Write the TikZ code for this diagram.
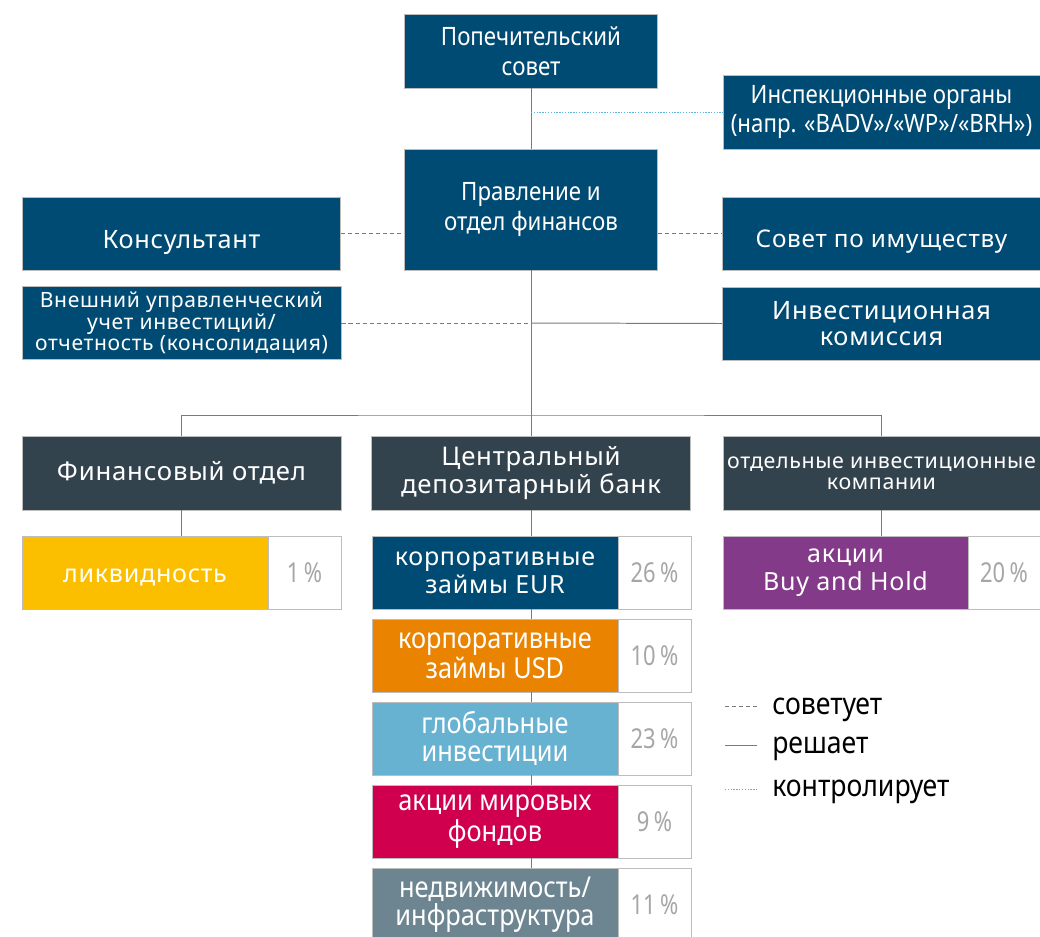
\documentclass[tikz,border=0pt]{standalone}
\usepackage{fontspec}
\setmainfont{Noto Sans}[LetterSpace=3]
\newfontfamily\narrowfont{Noto Sans}[FakeStretch=0.88]
\newfontfamily\pctfont{Noto Sans}[FakeStretch=0.8]
\usepackage{xcolor}
\usetikzlibrary{positioning,calc}
\definecolor{navy}{HTML}{004B73}
\definecolor{slate}{HTML}{33434D}
\definecolor{liqyellow}{HTML}{FBBF00}
\definecolor{usdorange}{HTML}{E98300}
\definecolor{globblue}{HTML}{67B2D1}
\definecolor{fundred}{HTML}{D1004F}
\definecolor{realgray}{HTML}{6D8591}
\definecolor{buypurple}{HTML}{833A89}
\definecolor{pctgray}{HTML}{A6A6A6}
\definecolor{boxline}{HTML}{BDBDBD}
\definecolor{ctrlblue}{HTML}{5AB4DE}
\definecolor{linegray}{HTML}{7A7A7A}
\newcommand{\lowtext}[2]{\raisebox{-#1}[\height][0pt]{#2}}

\begin{document}
\begin{tikzpicture}[x=0.025cm, y=-0.025cm]
	\tikzstyle{box} = [draw = boxline, line width = 0.6pt, inner sep = 0pt, align = center, text = white]
	\tikzstyle{head} = [box, fill = navy, minimum width = 6.325cm, font = \narrowfont\fontsize{18}{21}\selectfont]
	\tikzstyle{side} = [box, fill = navy, minimum width = 7.95cm, minimum height = 1.825cm, font = \fontsize{18}{18}\selectfont]
	\tikzstyle{unit} = [box, fill = slate, minimum width = 7.975cm, minimum height = 1.85cm, font = \fontsize{18.3}{18}\selectfont]
	\tikzstyle{asset} = [box, minimum width = 6.15cm, minimum height = 1.825cm, font = \fontsize{17.8}{20}\selectfont]
	\tikzstyle{nasset} = [asset, font = \narrowfont\fontsize{20.5}{20}\selectfont]
	\tikzstyle{pct} = [box, fill = white, text = pctgray, minimum width = 1.825cm, minimum height = 1.825cm, font = \pctfont\fontsize{19.5}{20}\selectfont]
	\tikzstyle{decides} = [draw = linegray, line width = 0.7pt]
	\tikzstyle{advises} = [draw = linegray, line width = 0.7pt, dash pattern = on 3pt off 2pt]
	\tikzstyle{supervises} = [draw = ctrlblue, line width = 0.7pt, dash pattern = on 1pt off 1pt]
	\tikzstyle{legend} = [anchor = west, inner sep = 0pt, font = \narrowfont\fontsize{21.5}{22}\selectfont]
\useasboundingbox (0,0) rectangle (1040,936);
% top of the tree
\node[head, minimum height = 1.85cm] (trust) at (531,51) {Попечительский\\совет};
\node[head, minimum width = 7.925cm, minimum height = 1.85cm] (inspect) at (881.5,112) {Инспекционные органы\\(напр. «BADV»/«WP»/«BRH»)};
\node[head, minimum height = 3.025cm, font = \narrowfont\fontsize{18}{22}\selectfont] (board) at (531,209.5) {Правление и\\отдел финансов};
\node[side] (consult) at (181.5,233.5) {\lowtext{4pt}{Консультант}};
\node[side, font = \fontsize{17.3}{18}\selectfont] (estate) at (881.5,233.5) {\lowtext{4pt}{Совет по имуществу}};
\node[side, minimum width = 7.975cm, font = \fontsize{15}{14.5}\selectfont] (extern) at (181.5,323) {Внешний управленческий\\учет инвестиций/\\отчетность (консолидация)};
\node[side] (invest) at (881.5,323.5) {Инвестиционная\\комиссия};
% units
\node[unit] (findept) at (181.5,473) {Финансовый отдел};
\node[unit] (depot) at (531,473) {Центральный\\депозитарный банк};
\node[unit, minimum width = 7.925cm, font = \fontsize{15.2}{15}\selectfont] (single) at (881.5,473) {отдельные инвестиционные\\компании};
% assets
\node[asset, fill = liqyellow] (liquid) at (145,572.5) {\lowtext{2pt}{ликвидность}};
\node[pct] (liquidp) at (304.5,572.5) {1\,\%};
\node[asset, fill = navy] (eur) at (495,572.5) {корпоративные\\займы EUR};
\node[pct] (eurp) at (654.5,572.5) {26\,\%};
\node[nasset, fill = usdorange] (usd) at (495,655.5) {корпоративные\\займы USD};
\node[pct] (usdp) at (654.5,655.5) {10\,\%};
\node[nasset, fill = globblue] (glob) at (495,738.5) {глобальные\\инвестиции};
\node[pct] (globp) at (654.5,738.5) {23\,\%};
\node[nasset, fill = fundred] (funds) at (495,821.5) {акции мировых\\фондов};
\node[pct] (fundsp) at (654.5,821.5) {9\,\%};
\node[nasset, fill = realgray] (real) at (495,904.5) {недвижимость/\\инфраструктура};
\node[pct] (realp) at (654.5,904.5) {11\,\%};
\node[asset, minimum width = 6.125cm, fill = buypurple] (buy) at (845.5,572.5) {акции\\Buy and Hold};
\node[pct, minimum width = 1.8cm] (buyp) at (1004,572.5) {20\,\%};
% connectors
\coordinate (bus) at (531,415);
	\path[decides] (trust) -- (board);
	\path[supervises] (trust |- inspect) -- (inspect);
	\path[advises] (consult.east) -- (consult.east -| board.west);
	\path[advises] (board.east |- estate) -- (estate);
	\path[advises] (extern) -- (extern -| board);
	\path[decides] (extern -| board) -- (invest.west);
	\path[decides] (board) -- (depot);
	\path[decides] (findept.north) |- (bus) -| (single.north);
	\path[decides] (findept) -- (findept |- liquid.north);
	\path[decides] (single) -- (single |- buy.north);
	\path[decides] (depot) -- (depot |- eur.north);
	\path[decides] (depot |- eur.south) -- (depot |- usd.north);
	\path[decides] (depot |- usd.south) -- (depot |- glob.north);
	\path[decides] (depot |- glob.south) -- (depot |- funds.north);
	\path[decides] (depot |- funds.south) -- (depot |- real.north);
% legend
\coordinate (adva) at (725,706);
\coordinate (advb) at (757,706);
\coordinate (deca) at (725,745);
\coordinate (decb) at (757,745);
\coordinate (ctra) at (725,789);
\coordinate (ctrb) at (757,789);
	\path[advises] (adva) -- (advb);
	\path[decides] (deca) -- (decb);
	\path[supervises] (ctra) -- (ctrb);
\node[legend] (advtext) at (772,710) {советует};
\node[legend] (dectext) at (772,749) {решает};
\node[legend] (ctrtext) at (772,792) {контролирует};
    \end{tikzpicture}
\end{document}
